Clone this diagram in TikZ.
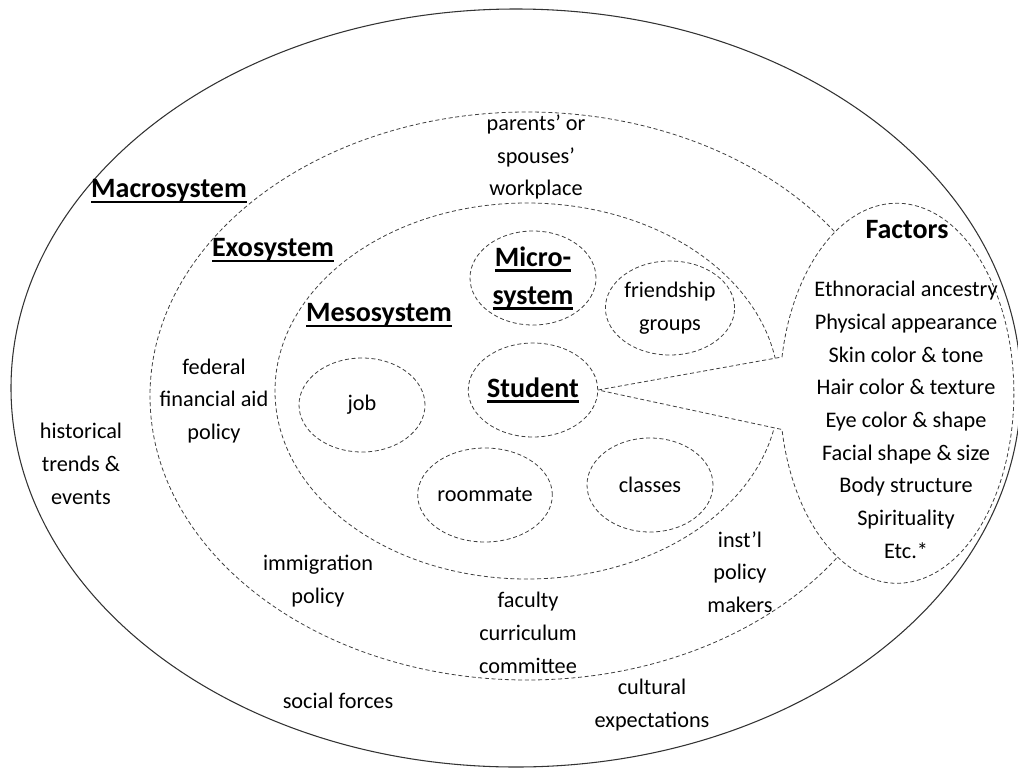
\documentclass[tikz,border=0pt]{standalone}
\usepackage{fontspec}
\setmainfont{Carlito}
\usetikzlibrary{shapes.geometric,positioning}

\newcommand{\ulhead}[1]{\setbox0\hbox{#1}\rlap{\rule[-4.2pt]{\wd0}{1.6pt}}\box0}

\begin{document}
\begin{tikzpicture}[x=0.75pt,y=-0.75pt,
  every node/.style={align=center,font=\fontsize{16.7}{24.5}\selectfont},
  dashline/.style={draw=black!75,line width=0.6pt,dash pattern=on 3pt off 2pt},
  bubble/.style={dashline,ellipse,minimum width=94.5pt,minimum height=70.5pt,inner sep=0pt},
  head/.style={font=\fontsize{21}{28.5}\selectfont\bfseries}]
\useasboundingbox (0,0) rectangle (1018,768);

% rings
\draw[dashline] (527,396) ellipse [x radius=377,y radius=284];
\draw[dashline] (527,391) ellipse [x radius=252,y radius=188];

\node[bubble,head] (student) at (533,390) {\ulhead{Student}};

% factors callout
\coordinate (wu) at (782,357);
\draw[dashline,fill=white] (student.east) -- (wu)
  arc[start angle=-169,end angle=169,x radius=117,y radius=190] -- cycle;

\draw[black!80,line width=0.8pt] (516,388) ellipse [x radius=505,y radius=379];

% micro level
\node[bubble,head] (micro) at (533,278) {\ulhead{Micro-}\\\ulhead{system}};
\node[bubble] (friends) at (670,308) {friendship\\groups};
\node[bubble] (job) at (362,405) {job};
\node[bubble] (room) at (485,495) {roommate};
\node[bubble] (classes) at (650,485) {classes};

% headings
\node[head] (macro) at (169,191) {\ulhead{Macrosystem}};
\node[head] (exo) at (273,250) {\ulhead{Exosystem}};
\node[head] (meso) at (379,315) {\ulhead{Mesosystem}};
\node[head] (factors) at (907,230) {Factors};

% ring labels
\node (work) at (536,157) {parents’ or\\spouses’\\workplace};
\node (aid) at (214,401) {federal\\financial aid\\policy};
\node (hist) at (81,464) {historical\\trends \&\\events};
\node (immig) at (318,581) {immigration\\policy};
\node (faculty) at (528,633) {faculty\\curriculum\\committee};
\node (inst) at (740,572) {inst’l\\policy\\makers};
\node (social) at (338,701) {social forces};
\node (cult) at (652,705) {cultural\\expectations};

\node (list) at (906,420) {Ethnoracial ancestry\\Physical appearance\\Skin color \& tone\\Hair color \& texture\\Eye color \& shape\\Facial shape \& size\\Body structure\\Spirituality\\Etc.*};
\end{tikzpicture}
\end{document}
